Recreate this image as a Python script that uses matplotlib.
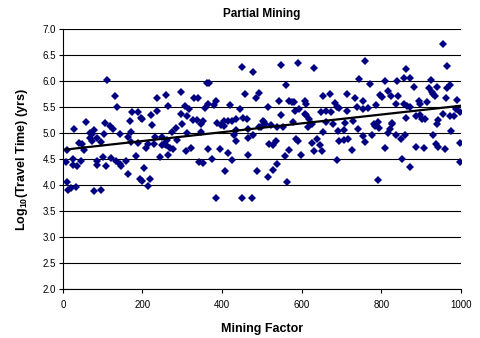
import matplotlib
matplotlib.use("Agg")
import matplotlib.pyplot as plt
import numpy as np

plt.rcParams["font.family"] = ["Liberation Sans", "DejaVu Sans"]
plt.rcParams["mathtext.fontset"] = "custom"
plt.rcParams["mathtext.bf"] = "Liberation Sans:bold"

# Mining factor (x) and log10 travel time (y) for each realisation
mining_factor = [
    112, 132, 137, 237, 258, 174, 189, 169, 196, 199, 222, 237, 225, 58, 28,
    106, 118, 125, 67, 72, 77, 67, 73, 86, 104, 97, 144, 163, 171, 172,
    188, 215, 231, 249, 230, 41, 47, 54, 10, 8, 25, 26, 36, 45, 85,
    86, 109, 100, 120, 134, 144, 147, 159, 164, 183, 204, 195, 198, 219, 213,
    209, 243, 11, 14, 20, 33, 79, 95, 254,
    451, 479, 363, 367, 296, 263, 330, 340, 307, 318, 297, 312, 358, 365, 379,
    385, 420, 446, 458, 485, 492, 326, 337, 353, 347, 299, 285, 273, 312, 346,
    387, 397, 405, 404, 416, 425, 436, 453, 463, 430, 434, 466, 478, 435, 464,
    503, 499, 250, 261, 258, 269, 276, 286, 264, 309, 323, 365, 395, 415, 425,
    375, 342, 351, 408, 466, 487, 385, 450, 475,
    549, 592, 631, 759, 743, 560, 516, 544, 569, 576, 580, 609, 610, 594, 583,
    549, 608, 612, 618, 653, 672, 683, 690, 695, 649, 661, 674, 715, 734, 754,
    739, 753, 713, 505, 509, 522, 493, 539, 553, 579, 627, 616, 662, 680, 709,
    730, 741, 707, 692, 654, 754, 758, 518, 527, 535, 585, 591, 625, 638, 646,
    631, 650, 568, 559, 599, 694, 707, 716, 726, 689, 537, 529, 516, 564,
    956, 862, 965, 773, 809, 840, 857, 873, 883, 924, 920, 941, 973, 966, 818,
    824, 841, 796, 803, 927, 930, 934, 963, 991, 768, 787, 836, 857, 864, 872,
    895, 898, 916, 862, 887, 898, 903, 909, 939, 942, 955, 973, 983, 987, 997,
    784, 791, 781, 795, 816, 821, 826, 828, 776, 836, 861, 850, 809, 930, 976,
    887, 907, 937, 943, 960, 997, 852, 873, 998, 791,
]
log_travel_time = [
    6.02, 5.72, 5.50, 5.67, 5.74, 5.40, 5.40, 5.24, 5.30, 5.28, 5.36, 5.42, 5.15, 5.21, 5.09,
    5.20, 5.14, 5.08, 5.01, 4.99, 5.06, 4.90, 4.85, 4.91, 4.99, 4.83, 4.99, 4.93, 5.03, 4.83,
    4.82, 4.80, 4.93, 4.77, 4.79, 4.82, 4.79, 4.67, 4.67, 4.45, 4.51, 4.38, 4.37, 4.47, 4.38,
    4.46, 4.37, 4.54, 4.53, 4.47, 4.40, 4.37, 4.46, 4.22, 4.56, 4.34, 4.12, 4.08, 4.12, 3.98,
    4.71, 4.54, 4.06, 3.91, 3.95, 3.97, 3.88, 3.90, 4.80,
    6.28, 6.17, 5.96, 5.96, 5.79, 5.53, 5.67, 5.68, 5.53, 5.47, 5.38, 5.33, 5.49, 5.56, 5.55,
    5.62, 5.54, 5.46, 5.75, 5.68, 5.78, 5.26, 5.26, 5.23, 5.17, 5.17, 5.10, 5.03, 5.01, 5.03,
    5.20, 5.15, 5.13, 5.24, 5.24, 5.23, 5.28, 5.29, 5.28, 4.96, 4.86, 4.91, 4.96, 5.06, 5.09,
    5.24, 5.12, 4.93, 4.87, 4.77, 4.71, 4.69, 4.87, 4.59, 4.65, 4.71, 4.70, 4.70, 4.62, 4.49,
    4.50, 4.45, 4.42, 4.27, 4.59, 4.27, 3.76, 3.76, 3.76,
    6.32, 6.36, 6.26, 6.39, 6.05, 5.92, 5.51, 5.62, 5.63, 5.60, 5.61, 5.63, 5.56, 5.47, 5.42,
    5.35, 5.38, 5.35, 5.27, 5.71, 5.76, 5.59, 5.50, 5.48, 5.40, 5.42, 5.41, 5.76, 5.68, 5.63,
    5.50, 5.47, 5.43, 5.21, 5.17, 5.15, 5.12, 5.12, 5.12, 5.21, 5.17, 5.12, 5.21, 5.17, 5.19,
    5.23, 5.08, 5.06, 5.04, 5.03, 4.94, 4.83, 4.79, 4.77, 4.85, 4.88, 4.85, 4.81, 4.89, 4.77,
    4.66, 4.65, 4.67, 4.56, 4.59, 4.85, 4.87, 4.88, 4.67, 4.49, 4.40, 4.30, 4.16, 4.06,
    6.72, 6.24, 6.29, 5.95, 6.01, 6.00, 6.06, 6.06, 5.89, 6.03, 5.88, 5.89, 5.93, 5.87, 5.82,
    5.71, 5.71, 5.74, 5.69, 5.79, 5.76, 5.72, 5.67, 5.64, 5.49, 5.55, 5.56, 5.56, 5.53, 5.50,
    5.63, 5.57, 5.61, 5.29, 5.33, 5.36, 5.27, 5.28, 5.18, 5.25, 5.38, 5.33, 5.33, 5.47, 5.40,
    5.14, 5.21, 5.17, 5.10, 5.01, 5.09, 5.17, 5.19, 4.97, 4.96, 4.97, 4.88, 4.71, 4.96, 5.04,
    4.74, 4.71, 4.79, 4.74, 4.69, 4.81, 4.51, 4.35, 4.45, 4.09,
]

# Linear trend line end points
trend_x = [0, 1000]
trend_y = [4.68, 5.53]

x_ticks = [0, 200, 400, 600, 800, 1000]
y_ticks = np.arange(2.0, 7.01, 0.5)

fig = plt.figure(figsize=(4.8, 3.38), dpi=100)
ax = fig.add_axes([0.131, 0.145, 0.829, 0.768])

for y in y_ticks:
    ax.axhline(y, color="black", linewidth=0.8, zorder=1)

ax.plot(mining_factor, log_travel_time, linestyle="none", marker="D",
        markersize=4.0, color="#000080", markeredgewidth=0, zorder=3)
ax.plot(trend_x, trend_y, color="black", linewidth=1.6, zorder=4)

ax.set_xlim(0, 1000)
ax.set_ylim(2.0, 7.0)
ax.set_xticks(x_ticks)
ax.set_yticks(y_ticks)
ax.set_yticklabels([f"{v:.1f}" for v in y_ticks])

for side in ("top", "right"):
    ax.spines[side].set_visible(False)
for side in ("left", "bottom"):
    ax.spines[side].set_linewidth(0.8)
ax.tick_params(direction="out", length=3, width=0.8, labelsize=7, pad=2)
ax.tick_params(axis="x", pad=5)

ax.set_title("Partial Mining", fontsize=8.5, fontweight="bold", pad=9)
ax.set_xlabel("Mining Factor", fontsize=9, fontweight="bold", labelpad=9)
ax.set_ylabel(r"Log$_{\mathbf{10}}$(Travel Time) (yrs)", fontsize=9,
              fontweight="bold", labelpad=9)

fig.savefig("out.png", dpi=100)
